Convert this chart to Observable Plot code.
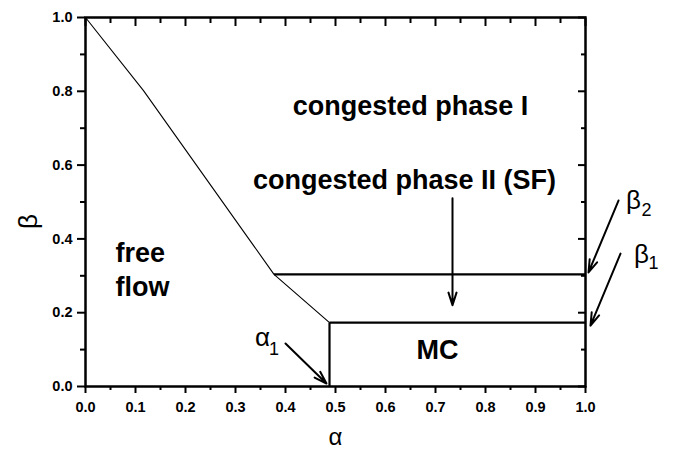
<!DOCTYPE html>
<html>
<head>
<meta charset="utf-8">
<script src="https://cdn.jsdelivr.net/npm/d3@7"></script>
<script src="https://cdn.jsdelivr.net/npm/@observablehq/plot@0.6"></script>
<style>
  body { margin: 0; background: #fff; }
</style>
</head>
<body>
<div id="chart"></div>
<script>
// Axis ticks
const alphaMajor = [0, 0.1, 0.2, 0.3, 0.4, 0.5, 0.6, 0.7, 0.8, 0.9, 1.0];
const alphaMinor = [0.05, 0.15, 0.25, 0.35, 0.45, 0.55, 0.65, 0.75, 0.85, 0.95];
const betaMajor = [0, 0.2, 0.4, 0.6, 0.8, 1.0];
const betaMinor = [0.1, 0.3, 0.5, 0.7, 0.9];

// Phase boundary between free flow and the congested phases
const freeFlowAlpha = [0.0, 0.116, 0.377, 0.488];
const freeFlowBeta = [1.0, 0.802, 0.304, 0.173];

// Critical values
const alpha1 = 0.488;
const beta1 = 0.173;
const beta2 = 0.304;

// Straight phase borders: [alphaStart, betaStart, alphaEnd, betaEnd]
const borderA1 = [alpha1, alpha1, 0.377];
const borderB1 = [0, beta1, beta2];
const borderA2 = [alpha1, 1.0, 1.0];
const borderB2 = [beta1, beta1, beta2];

// Region names (centred)
const regionNames = ["congested phase I", "congested phase II (SF)", "MC"];
const regionAlpha = [0.65, 0.638, 0.704];
const regionBeta = [0.76, 0.558, 0.098];

// Free-flow region name (left aligned)
const freeNames = ["free", "flow"];
const freeAlpha = [0.06, 0.06];
const freeBeta = [0.36, 0.27];

// Pointer arrows
const arrowA1 = [0.40, 0.734, 1.066, 1.07];
const arrowB1 = [0.1165, 0.51, 0.504, 0.36];
const arrowA2 = [0.482, 0.734, 1.006, 1.01];
const arrowB2 = [0.008, 0.22, 0.309, 0.165];

// Symbols with subscripts
const symbolText = ["α", "β", "β"];
const symbolAlpha = [0.354, 1.096, 1.112];
const symbolBeta = [0.133, 0.504, 0.358];
const subText = ["1", "2", "1"];
const subAlpha = [0.377, 1.122, 1.136];
const subBeta = [0.102, 0.477, 0.333];

const borders = borderA1.map((a, i) => ({a1: a, b1: borderB1[i], a2: borderA2[i], b2: borderB2[i]}));
const arrows = arrowA1.map((a, i) => ({a1: a, b1: arrowB1[i], a2: arrowA2[i], b2: arrowB2[i]}));
const boundary = freeFlowAlpha.map((a, i) => ({a, b: freeFlowBeta[i]}));
const regions = regionNames.map((t, i) => ({t, a: regionAlpha[i], b: regionBeta[i]}));
const freeFlow = freeNames.map((t, i) => ({t, a: freeAlpha[i], b: freeBeta[i]}));
const symbols = symbolText.map((t, i) => ({t, a: symbolAlpha[i], b: symbolBeta[i]}));
const subs = subText.map((t, i) => ({t, a: subAlpha[i], b: subBeta[i]}));

const fmt = d => d.toFixed(1);
const font = "'Liberation Sans', Arial, Helvetica, sans-serif";

const chart = Plot.plot({
  width: 674,
  height: 452,
  marginLeft: 85,
  marginRight: 89,
  marginTop: 17,
  marginBottom: 66,
  x: {domain: [0, 1]},
  y: {domain: [0, 1]},
  style: {fontFamily: font, fontWeight: "bold", background: "#fff", color: "#000"},
  marks: [
    // bottom axis
    Plot.axisX(alphaMajor, {anchor: "bottom", tickSize: 7, tickPadding: 8, tickFormat: fmt, strokeWidth: 2, fontSize: 14.5, label: null}),
    Plot.axisX(alphaMinor, {anchor: "bottom", tickSize: 4, tickFormat: () => "", strokeWidth: 2, label: null}),
    // top axis, ticks inward
    Plot.axisX(alphaMajor, {anchor: "top", tickSize: -8, tickFormat: () => "", strokeWidth: 2, label: null}),
    Plot.axisX(alphaMinor, {anchor: "top", tickSize: -5, tickFormat: () => "", strokeWidth: 2, label: null}),
    // left axis
    Plot.axisY(betaMajor, {anchor: "left", tickSize: 8, tickPadding: 5, tickFormat: fmt, strokeWidth: 2, fontSize: 14.5, label: null}),
    Plot.axisY(betaMinor, {anchor: "left", tickSize: 5, tickFormat: () => "", strokeWidth: 2, label: null}),
    // right axis, ticks inward
    Plot.axisY(betaMajor, {anchor: "right", tickSize: -8, tickFormat: () => "", strokeWidth: 2, label: null}),
    Plot.axisY(betaMinor, {anchor: "right", tickSize: -5, tickFormat: () => "", strokeWidth: 2, label: null}),
    Plot.frame({stroke: "#000", strokeWidth: 2.5}),

    // phase boundaries
    Plot.line(boundary, {x: "a", y: "b", stroke: "#000", strokeWidth: 1.1}),
    Plot.link(borders, {x1: "a1", y1: "b1", x2: "a2", y2: "b2", stroke: "#000", strokeWidth: 2.2}),

    // region names
    Plot.text(regions, {x: "a", y: "b", text: "t", fontSize: 27}),
    Plot.text(freeFlow, {x: "a", y: "b", text: "t", fontSize: 27, textAnchor: "start"}),

    // arrows
    Plot.arrow(arrows, {x1: "a1", y1: "b1", x2: "a2", y2: "b2", stroke: "#000", strokeWidth: 2, headLength: 10, headAngle: 35}),

    // critical value labels
    Plot.text(symbols, {x: "a", y: "b", text: "t", fontSize: 26, fontWeight: "normal"}),
    Plot.text(subs, {x: "a", y: "b", text: "t", fontSize: 18, fontWeight: "normal"}),

    // axis titles
    Plot.text(["α"], {x: 0.5, y: -0.138, text: d => d, fontSize: 24, fontWeight: "normal"}),
    Plot.text(["β"], {x: -0.114, y: 0.447, text: d => d, fontSize: 26, fontWeight: "normal", rotate: -90})
  ]
});

document.getElementById("chart").appendChild(chart);
</script>
</body>
</html>
